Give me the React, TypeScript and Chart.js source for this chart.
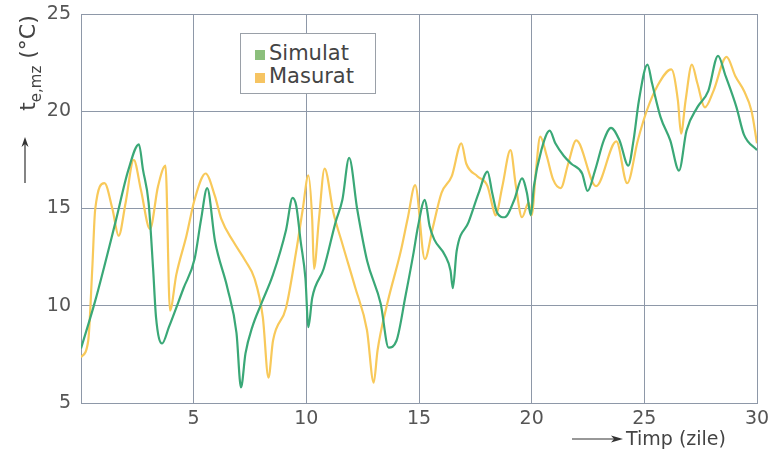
import React, { useEffect, useRef } from "react";
import { Chart, registerables } from "chart.js";

Chart.register(...registerables);

const simDays = [0, 0.63, 1.53, 2.1, 2.57, 2.75, 3.0, 3.2, 3.33, 3.6, 3.9, 4.55, 5.04, 5.33, 5.6, 5.95, 6.5, 6.9, 7.1, 7.3, 7.6, 8.0, 8.52, 9.1, 9.39, 9.55, 9.75, 9.96, 10.09, 10.26, 10.77, 11.3, 11.6, 11.9, 12.26, 12.7, 13.3, 13.65, 14.0, 14.4, 14.74, 14.96, 15.26, 15.47, 15.68, 16.15, 16.4, 16.5, 16.67, 17.2, 17.65, 18.04, 18.25, 18.46, 18.8, 19.23, 19.57, 19.79, 19.96, 20.1, 20.43, 20.8, 21.05, 21.43, 21.76, 22.24, 22.48, 22.81, 23.2, 23.52, 23.9, 24.29, 24.52, 24.76, 25.14, 25.34, 25.72, 26.15, 26.54, 26.87, 27.35, 27.84, 28.27, 28.61, 29.09, 29.42, 30];
const simTemps = [7.8, 10.25, 14.3, 16.97, 18.3, 17.0, 15.3, 11.9, 9.4, 8.06, 8.9, 10.9, 12.4, 14.45, 16.05, 13.3, 10.9, 8.6, 5.8, 7.55, 8.9, 10.1, 11.6, 13.9, 15.55, 15.15, 13.3, 11.4, 8.9, 10.4, 11.9, 14.3, 15.45, 17.6, 14.95, 12.3, 10.1, 7.85, 8.2, 10.5, 12.6, 14.1, 15.45, 14.1, 13.4, 12.6, 11.8, 10.9, 12.8, 14.3, 15.8, 16.9, 15.8, 14.8, 14.55, 15.45, 16.55, 15.8, 14.65, 16.15, 18.0, 19.0, 18.35, 17.7, 17.3, 16.8, 15.9, 16.95, 18.5, 19.15, 18.5, 17.2, 18.5, 20.55, 22.4, 21.45, 19.7, 18.5, 16.95, 19.0, 20.2, 21.05, 22.85, 21.8, 20.2, 18.8, 18.0];

const measDays = [0, 0.32, 0.5, 0.63, 1.04, 1.4, 1.67, 1.98, 2.34, 2.66, 3.06, 3.42, 3.75, 3.95, 4.23, 4.68, 5.04, 5.53, 5.94, 6.23, 6.76, 7.3, 7.7, 8.07, 8.32, 8.52, 9.1, 9.55, 9.84, 10.09, 10.26, 10.34, 10.56, 10.81, 11.2, 11.62, 12.18, 12.69, 12.99, 13.16, 13.59, 14.19, 14.5, 14.83, 15.26, 15.6, 16.0, 16.45, 16.88, 17.1, 17.6, 18.04, 18.3, 18.4, 18.7, 19.06, 19.3, 19.57, 19.87, 20.0, 20.19, 20.38, 20.67, 20.95, 21.29, 21.62, 21.98, 22.86, 23.76, 24.24, 24.71, 25.1, 25.58, 26.2, 26.49, 26.63, 26.83, 27.11, 27.35, 27.69, 28.07, 28.65, 29.04, 29.42, 29.76, 30];
const measTemps = [7.35, 8.2, 11.9, 14.95, 16.3, 14.95, 13.6, 15.3, 17.5, 15.95, 13.95, 16.15, 17.2, 9.75, 11.6, 13.6, 15.45, 16.8, 15.65, 14.45, 13.3, 12.3, 11.4, 9.4, 6.3, 8.2, 9.9, 12.8, 14.95, 16.7, 14.45, 11.9, 14.45, 17.05, 14.8, 13.1, 10.9, 8.75, 6.05, 7.7, 10.1, 12.8, 14.5, 16.2, 12.4, 13.95, 15.8, 16.65, 18.35, 17.3, 16.65, 16.15, 14.95, 14.65, 16.15, 18.0, 16.15, 14.55, 15.3, 14.65, 16.95, 18.7, 17.7, 16.5, 16.05, 17.3, 18.5, 16.15, 18.45, 16.3, 18.5, 20.0, 21.3, 22.15, 20.55, 18.85, 20.55, 22.4, 21.45, 20.2, 21.05, 22.8, 21.8, 21.05, 20.0, 18.35];

const seriesNames = ["Simulat", "Masurat"];
const xTitle = "Timp (zile)";
const xTicks = [0, 5, 10, 15, 20, 25, 30];
const yTicks = [5, 10, 15, 20, 25];

const GREEN = "#3aa877";
const YELLOW = "#f8c95a";
const GRID = "#8e98a8";
const FONT = "'DejaVu Sans', Verdana, sans-serif";

export default function App() {
  const canvasRef = useRef<HTMLCanvasElement | null>(null);

  useEffect(() => {
    document.body.style.margin = "0";
    const ctx = canvasRef.current!.getContext("2d")!;
    const chart = new Chart(ctx, {
      type: "line",
      data: {
        datasets: [
          {
            label: seriesNames[0],
            data: simDays.map((d, i) => ({ x: d, y: simTemps[i] })),
            borderColor: GREEN,
            borderWidth: 2.2,
            pointRadius: 0,
            cubicInterpolationMode: "monotone",
          },
          {
            label: seriesNames[1],
            data: measDays.map((d, i) => ({ x: d, y: measTemps[i] })),
            borderColor: YELLOW,
            borderWidth: 2.2,
            pointRadius: 0,
            cubicInterpolationMode: "monotone",
          },
        ],
      },
      options: {
        animation: false,
        responsive: false,
        devicePixelRatio: 1,
        layout: { padding: { top: 14, right: 11, left: 0, bottom: 0 } },
        plugins: { legend: { display: false }, tooltip: { enabled: false } },
        scales: {
          x: {
            type: "linear",
            min: xTicks[0],
            max: xTicks[xTicks.length - 1],
            afterBuildTicks: (s: any) => {
              s.ticks = xTicks.map((v) => ({ value: v }));
            },
            afterFit: (s: any) => {
              s.height = 49;
              s.paddingLeft = 0;
              s.paddingRight = 0;
            },
            ticks: {
              padding: 5,
              color: "#555",
              font: { family: FONT, size: 19 },
              callback: (v: any) => (v === 0 ? "" : String(v)),
            },
            grid: { color: GRID, lineWidth: 1, drawTicks: false },
            border: { color: GRID, width: 1 },
          },
          y: {
            type: "linear",
            min: yTicks[0],
            max: yTicks[yTicks.length - 1],
            afterBuildTicks: (s: any) => {
              s.ticks = yTicks.map((v) => ({ value: v }));
            },
            afterFit: (s: any) => {
              s.width = 81;
              s.paddingTop = 0;
              s.paddingBottom = 0;
            },
            ticks: {
              padding: 10,
              color: "#555",
              font: { family: FONT, size: 19 },
            },
            grid: { color: GRID, lineWidth: 1, drawTicks: false },
            border: { color: GRID, width: 1 },
          },
        },
      },
    });
    return () => chart.destroy();
  }, []);

  return (
    <div style={{ position: "absolute", left: 0, top: 0, width: 768, height: 452, background: "#fff", fontFamily: FONT, color: "#444" }}>
      <canvas ref={canvasRef} width={768} height={452} style={{ position: "absolute", left: 0, top: 0 }} />
      {/* legend */}
      <div style={{ position: "absolute", left: 240, top: 33, width: 134, height: 59, border: `1px solid #9aa0a8`, background: "#fff", fontSize: 21, lineHeight: "24px" }}>
        <div style={{ position: "absolute", left: 14, top: 7, whiteSpace: "nowrap" }}>
          <span style={{ display: "inline-block", width: 10, height: 10, background: "#8cbf7c", marginRight: 4 }} />
          {seriesNames[0]}
        </div>
        <div style={{ position: "absolute", left: 14, top: 30, whiteSpace: "nowrap" }}>
          <span style={{ display: "inline-block", width: 10, height: 10, background: "#f6c462", marginRight: 4 }} />
          {seriesNames[1]}
        </div>
      </div>
      {/* y title */}
      <div style={{ position: "absolute", left: 30, top: 63, transform: "translate(-50%, -50%) rotate(-90deg)", whiteSpace: "nowrap", fontSize: 22 }}>
        t<sub style={{ fontSize: 15 }}>e,mz</sub> (°C)
      </div>
      <svg width={768} height={452} style={{ position: "absolute", left: 0, top: 0, pointerEvents: "none" }}>
        <line x1={25} y1={183} x2={25} y2={142} stroke="#333" strokeWidth={1.2} />
        <path d="M25 137 L21.5 147 L25 144 L28.5 147 Z" fill="#333" />
        <line x1={572} y1={439} x2={617} y2={439} stroke="#333" strokeWidth={1.2} />
        <path d="M623 439 L611 435.5 L614 439 L611 442.5 Z" fill="#333" />
      </svg>
      <div style={{ position: "absolute", left: 626, top: 427, fontSize: 19, whiteSpace: "nowrap" }}>{xTitle}</div>
    </div>
  );
}
